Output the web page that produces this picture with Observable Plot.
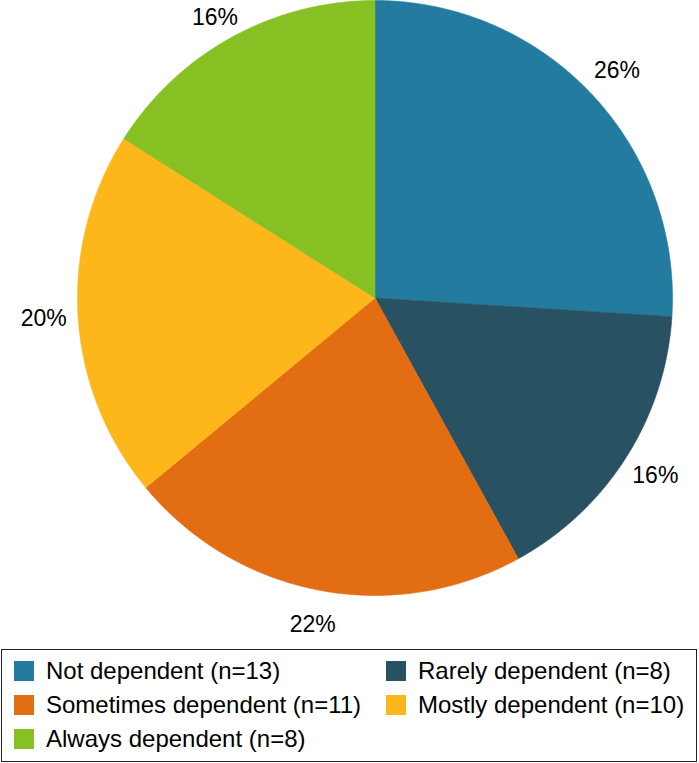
<!DOCTYPE html>
<html>
<head>
<meta charset="utf-8">
<script src="https://cdn.jsdelivr.net/npm/d3@7"></script>
<script src="https://cdn.jsdelivr.net/npm/@observablehq/plot@0.6"></script>
<style>
  html, body { margin: 0; padding: 0; background: #fff; }
  body { width: 699px; height: 763px; position: relative; font-family: "Liberation Sans", Arial, Helvetica, sans-serif; }
  #legend { position: absolute; left: 1px; top: 649px; width: 694px; height: 111px; border: 1.5px solid #222; box-sizing: content-box; }
  .item { position: absolute; display: flex; align-items: center; height: 20px; font-size: 24px; color: #000; white-space: nowrap; }
  .sw { width: 20px; height: 20px; margin-right: 12px; flex: none; }
</style>
</head>
<body>
<div id="chart"></div>
<div id="legend"></div>
<script>
const categories = ["Not dependent", "Rarely dependent", "Sometimes dependent", "Mostly dependent", "Always dependent"];
const counts = [13, 8, 11, 10, 8];
const percents = [26, 16, 22, 20, 16];
const colors = ["#237BA0", "#285261", "#E36D12", "#FDB71B", "#86C022"];
const legendOrder = ["Not dependent", "Rarely dependent", "Sometimes dependent", "Mostly dependent", "Always dependent"];

const arcs = d3.pie().sort(null).value(d => d)(counts);

// polygon points for each slice (angles from d3.pie, clockwise from 12 o'clock)
const slicePts = [];
arcs.forEach((a, i) => {
  const cat = categories[i];
  slicePts.push({cat, x: 0, y: 0});
  const n = 240;
  for (let k = 0; k <= n; k++) {
    const t = a.startAngle + (a.endAngle - a.startAngle) * k / n;
    slicePts.push({cat, x: Math.sin(t), y: Math.cos(t)});
  }
  slicePts.push({cat, x: 0, y: 0});
});

// labels just outside the rim at each slice's mid-angle, kept inside the frame
const labelR = 1.116;
const yMax = 0.943;
const labels = arcs.map((a, i) => {
  const m = (a.startAngle + a.endAngle) / 2;
  return {x: labelR * Math.sin(m), y: Math.min(yMax, labelR * Math.cos(m)), text: percents[i] + "%"};
});

const plot = Plot.plot({
  width: 699,
  height: 648,
  marginLeft: 77,
  marginRight: 27,
  marginTop: 0,
  marginBottom: 53,
  x: {domain: [-1, 1], axis: null},
  y: {domain: [-1, 1], axis: null},
  color: {domain: categories, range: colors},
  style: {fontFamily: "'Liberation Sans', Arial, Helvetica, sans-serif", overflow: "visible", background: "white"},
  marks: [
    Plot.line(slicePts, {x: "x", y: "y", z: "cat", fill: "cat", stroke: "cat", strokeWidth: 0.6, curve: "linear"}),
    Plot.text(labels, {x: "x", y: "y", text: "text", fontSize: 23, fill: "#000", textAnchor: "middle", lineAnchor: "middle"})
  ]
});
document.getElementById("chart").appendChild(plot);

// legend (2 columns, row-major)
const legend = document.getElementById("legend");
const colX = [12, 384];
const rowY = [11, 45, 79];
legendOrder.forEach((c, j) => {
  const i = categories.indexOf(c);
  const div = document.createElement("div");
  div.className = "item";
  div.style.left = colX[j % 2] + "px";
  div.style.top = rowY[Math.floor(j / 2)] + "px";
  const sw = document.createElement("span");
  sw.className = "sw";
  sw.style.background = colors[i];
  div.appendChild(sw);
  div.appendChild(document.createTextNode(`${c} (n=${counts[i]})`));
  legend.appendChild(div);
});
</script>
</body>
</html>
